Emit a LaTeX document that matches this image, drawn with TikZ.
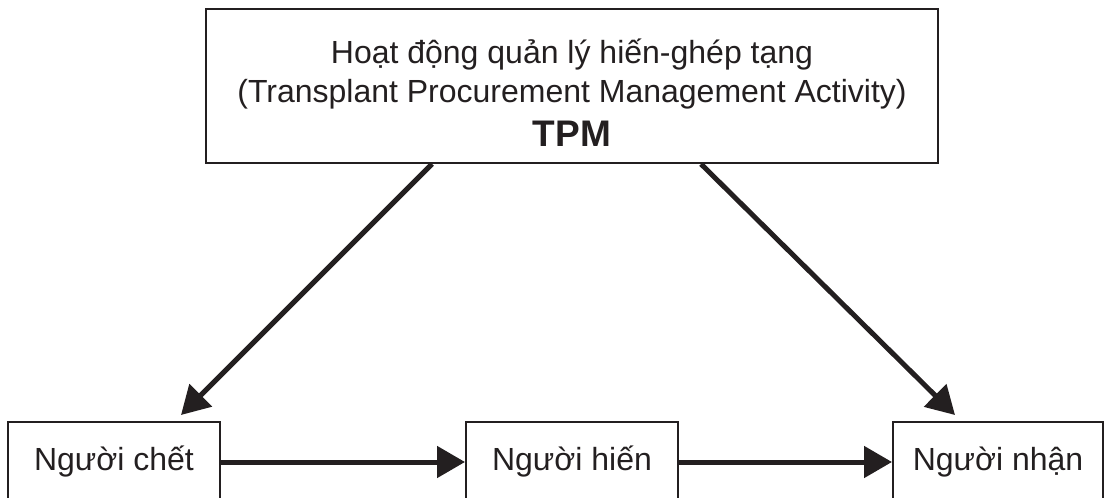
\documentclass[tikz,border=0pt]{standalone}
\usepackage{fontspec}
\setmainfont{Liberation Sans}
\usetikzlibrary{arrows.meta}
\definecolor{ink}{HTML}{231F20}
\begin{document}
\begin{tikzpicture}[x=1pt,y=-1pt,
  box/.style={draw=ink,line width=2pt,rectangle,inner sep=0pt,text=ink,
    font=\fontsize{32}{39}\selectfont},
  flow/.style={draw=ink,line width=5pt,-{Triangle[length=28pt,width=31pt]}}]
\useasboundingbox (0,0) rectangle (1104,498);
% management activity box (the strut on the first line lowers the text block a little)
\node[box,minimum width=732pt,minimum height=154pt,align=center] (tpm) at (572,86)
  {\rule{0pt}{38pt}Hoạt động quản lý hiến-ghép tạng\\(Transplant Procurement Management Activity)\\[5pt]
   {\fontsize{37}{40}\selectfont\bfseries TPM}};
% the three parties
\node[box,minimum width=212pt,minimum height=80pt] (dead)  at (114,462) {Người chết};
\node[box,minimum width=212pt,minimum height=80pt] (donor) at (572,462) {Người hiến};
\node[box,minimum width=210pt,minimum height=80pt] (recv)  at (998,462) {Người nhận};
% connectors
\draw[flow] ([xshift=227pt]tpm.south west) -- ([xshift=-40pt,yshift=6pt]dead.north east);
\draw[flow] ([xshift=-238pt]tpm.south east) -- ([xshift=63pt,yshift=6pt]recv.north west);
\draw[flow] (dead.east) -- (donor.west);
\draw[flow] (donor.east) -- (recv.west);
\end{tikzpicture}
\end{document}
